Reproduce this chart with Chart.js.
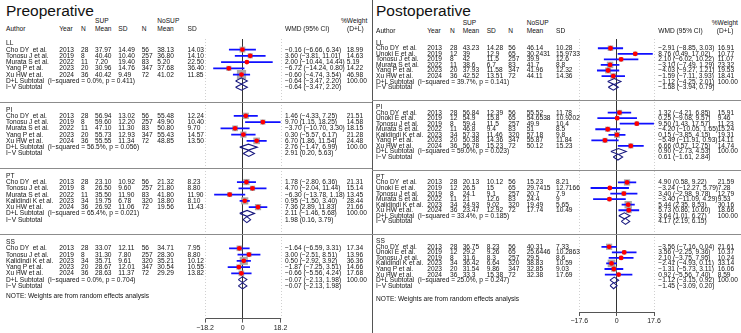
<!DOCTYPE html>
<html>
<head>
<meta charset="utf-8">
<script src="https://cdn.jsdelivr.net/npm/chart.js@4.4.1/dist/chart.umd.min.js"></script>
<style>
  body { margin: 0; width: 741px; height: 333px; position: relative; overflow: hidden; background: #fff;
         font-family: "Liberation Sans", Arial, sans-serif; color: #111; }
  canvas { position: absolute; top: 0; }
  .t { position: absolute; white-space: pre; font-size: 6.6px; line-height: 8px; transform: translateY(-50%); }
  .title { position: absolute; white-space: pre; font-size: 15.5px; line-height: 18px; }
  .hl { position: absolute; height: 1px; background: #8c8c8c; }
  .vl { position: absolute; width: 1px; background: #555; top: 0; height: 333px; left: 372px; }
</style>
</head>
<body>
<div class="vl"></div>
<canvas id="pre" width="115" height="333" style="left:185px"></canvas>
<canvas id="post" width="115" height="333" style="left:560px"></canvas>
<script>
// ---- Preoperative data ----
const preGroups = ['LL', 'PI', 'PT', 'SS'];
const preAuthor = [
  ['Cho DY  et al.', 'Tonosu J et al.', 'Murata S et al.', 'Yang P et al.', 'Xu HW et al.'],
  ['Cho DY  et al.', 'Tonosu J et al.', 'Murata S et al.', 'Yang P et al.', 'Xu HW et al.'],
  ['Cho DY  et al.', 'Tonosu J et al.', 'Murata S et al.', 'Kalidindi K et al.', 'Xu HW et al.'],
  ['Cho DY  et al.', 'Tonosu J et al.', 'Kalidindi K et al.', 'Yang P et al.', 'Xu HW et al.']
];
const preYear = [
  ['2013', '2019', '2022', '2023', '2024'],
  ['2013', '2019', '2022', '2023', '2024'],
  ['2013', '2019', '2022', '2023', '2024'],
  ['2013', '2019', '2023', '2023', '2024']
];
const preN1 = [
  ['28', '8', '11', '20', '36'], ['28', '8', '11', '20', '36'],
  ['28', '8', '11', '34', '36'], ['28', '8', '34', '20', '36']
];
const preMean1 = [
  ['37.97', '40.40', '7.20', '30.96', '40.42'],
  ['56.94', '59.60', '47.10', '55.73', '55.55'],
  ['23.10', '26.50', '35.50', '19.75', '26.92'],
  ['33.07', '31.30', '35.71', '28.67', '28.63']
];
const preSD1 = [
  ['14.49', '10.40', '19.40', '14.76', '9.49'],
  ['13.02', '12.20', '11.30', '12.93', '11.34'],
  ['10.92', '9.60', '11.90', '6.78', '11.06'],
  ['12.11', '7.80', '9.61', '12.01', '11.37']
];
const preN2 = [
  ['56', '257', '83', '347', '72'], ['56', '257', '83', '347', '72'],
  ['56', '257', '83', '320', '72'], ['56', '257', '320', '347', '72']
];
const preMean2 = [
  ['38.13', '36.80', '5.20', '37.68', '41.02'],
  ['55.48', '49.90', '50.80', '55.43', '48.85'],
  ['21.32', '21.80', '41.80', '18.80', '19.56'],
  ['34.71', '28.30', '35.21', '30.54', '29.29']
];
const preSD2 = [
  ['14.03', '14.10', '22.50', '36.40', '11.85'],
  ['12.24', '10.40', '9.70', '14.57', '13.50'],
  ['8.23', '8.80', '11.90', '8.10', '11.43'],
  ['7.95', '8.80', '10.12', '10.55', '13.82']
];
const preWMD = [
  [-0.16, 3.60, 2.00, -6.72, -0.60],
  [1.46, 9.70, -3.70, 0.30, 6.70],
  [1.78, 4.70, -6.30, 0.95, 7.36],
  [-1.64, 3.00, 0.50, -1.87, -0.66]
];
const preLow = [
  [-6.66, -3.81, -10.44, -14.24, -4.74],
  [-4.33, 1.15, -10.70, -5.57, 1.86],
  [-2.80, -2.04, -13.78, -1.50, 2.89],
  [-6.59, -2.51, -2.92, -7.25, -5.56]
];
const preHigh = [
  [6.34, 11.01, 14.44, 0.80, 3.54],
  [7.25, 18.25, 3.30, 6.17, 11.54],
  [6.36, 11.44, 1.18, 3.40, 11.83],
  [3.31, 8.51, 3.92, 3.51, 4.24]
];
const preWeight = [
  [18.99, 14.63, 5.19, 14.22, 46.98],
  [21.51, 14.58, 18.15, 21.28, 24.48],
  [21.31, 15.14, 13.45, 28.44, 21.66],
  [17.34, 13.96, 36.36, 14.66, 17.68]
];
const preDL = [[-0.64, -3.47, 2.20], [2.76, -1.47, 6.99], [2.11, -1.46, 5.68], [-0.07, -2.13, 1.98]];
const preIV = [[-0.64, -3.47, 2.20], [2.91, 0.20, 5.63], [1.98, 0.16, 3.79], [-0.07, -2.13, 1.98]];
const preI2 = ['0.0%', '56.5%', '65.4%', '0.0%'];
const preP = ['0.411', '0.056', '0.021', '0.704'];
const preTicks = [-18.2, 0, 18.2];

// ---- Postoperative data ----
const postGroups = ['LL', 'PI', 'PT', 'SS'];
const postAuthor = [
  ['Cho DY  et al.', 'Unoki E et al.', 'Tonosu J et al.', 'Murata S et al.', 'Yang P et al.', 'Xu HW et al.'],
  ['Cho DY  et al.', 'Unoki E et al.', 'Tonosu J et al.', 'Murata S et al.', 'Kalidindi K et al.', 'Yang P et al.', 'Xu HW et al.'],
  ['Cho DY  et al.', 'Unoki E et al.', 'Tonosu J et al.', 'Murata S et al.', 'Kalidindi K et al.', 'Xu HW et al.'],
  ['Cho DY  et al.', 'Unoki E et al.', 'Tonosu J et al.', 'Kalidindi K et al.', 'Yang P et al.', 'Xu HW et al.']
];
const postYear = [
  ['2013', '2019', '2019', '2022', '2023', '2024'],
  ['2013', '2019', '2019', '2022', '2023', '2023', '2024'],
  ['2013', '2019', '2019', '2022', '2023', '2024'],
  ['2013', '2019', '2019', '2023', '2023', '2024']
];
const postN1 = [
  ['28', '12', '8', '11', '20', '36'],
  ['28', '12', '8', '11', '34', '20', '36'],
  ['28', '12', '8', '11', '34', '36'],
  ['28', '12', '8', '34', '20', '36']
];
const postMean1 = [
  ['43.23', '39', '42', '38.6', '37.93', '42.52'],
  ['56.84', '54.9', '59.4', '46.8', '57.33', '50.38', '56.78'],
  ['20.13', '26.5', '24.1', '21', '24.93', '23.47'],
  ['36.75', '29.2', '31.6', '36.42', '31.54', '33.3']
];
const postSD1 = [
  ['14.28', '12.9', '11.5', '6.7', '11.58', '13.51'],
  ['12.39', '15.8', '11.5', '9.4', '11.46', '14.36', '15.23'],
  ['10.12', '15', '9.1', '12.6', '9.02', '12.92'],
  ['8.23', '9.26', '8.3', '6.64', '9.86', '15.38']
];
const postN2 = [
  ['56', '65', '257', '83', '347', '72'],
  ['56', '65', '257', '83', '320', '347', '72'],
  ['56', '65', '257', '83', '320', '72'],
  ['56', '65', '257', '320', '347', '72']
];
const postMean2 = [
  ['46.14', '30.2431', '39.9', '41.7', '41.96', '44.11'],
  ['55.52', '54.6538', '49.9', '51', '57.18', '55.87', '50.12'],
  ['15.23', '29.7415', '20.7', '24.4', '19.49', '17.74'],
  ['40.31', '25.6446', '29.5', '38.83', '32.85', '32.38']
];
const postSD2 = [
  ['10.28', '15.9733', '12.6', '8.8', '12.32', '14.36'],
  ['11.78', '10.9202', '10.4', '8.5', '9.8', '11.84', '15.23'],
  ['8.21', '12.7166', '7.9', '9', '5.65', '10.49'],
  ['7.33', '10.2863', '8.6', '10.59', '9.03', '17.69']
];
const postWMD = [
  [-2.91, 8.76, 2.10, -3.10, -4.03, -1.59],
  [1.32, 0.25, 9.50, -4.20, 0.15, -5.49, 6.66],
  [4.90, -3.24, 3.40, -3.40, 5.44, 5.73],
  [-3.56, 3.56, 2.10, -2.41, -1.31, 0.92]
];
const postLow = [
  [-8.85, 0.49, -6.02, -7.49, -9.27, -7.11],
  [-4.21, -9.08, 1.43, -10.05, -3.85, -11.91, 0.57],
  [0.58, -12.27, -2.98, -11.09, 2.35, 0.86],
  [-7.16, -2.25, -3.75, -4.93, -5.73, -5.56]
];
const postHigh = [
  [3.03, 17.02, 10.22, 1.29, 1.21, 3.93],
  [6.85, 9.57, 17.57, 1.65, 4.15, 0.93, 12.75],
  [9.22, 5.79, 9.78, 4.29, 8.53, 10.60],
  [0.04, 9.36, 7.95, 0.11, 3.11, 7.40]
];
const postWeight = [
  [16.91, 10.77, 11.07, 23.32, 19.53, 18.41],
  [15.91, 9.46, 11.23, 15.24, 19.31, 14.11, 14.74],
  [21.59, 7.28, 12.79, 9.53, 30.16, 18.66],
  [21.61, 10.37, 10.24, 33.14, 16.06, 8.59]
];
const postDL = [[-1.12, -4.25, 2.01], [0.90, -2.73, 4.53], [3.64, 1.01, 6.27], [-1.12, -3.15, 0.92]];
const postIV = [[-1.58, -3.94, 0.79], [0.61, -1.61, 2.84], [4.17, 2.19, 6.15], [-1.45, -3.09, 0.20]];
const postI2 = ['39.7%', '59.0%', '33.4%', '25.0%'];
const postP = ['0.141', '0.023', '0.185', '0.247'];
const postTicks = [-17.6, 0, 17.6];

const FONT = '"Liberation Sans", Arial, sans-serif';

function minus(s) { return String(s).replace(/-/g, '\u2212'); }
function f2(v) { return minus(v.toFixed(2)); }
function ciText(e, lo, hi) { return f2(e) + ' (' + f2(lo) + ', ' + f2(hi) + ')'; }

function addText(str, x, y, cls) {
  const d = document.createElement('div');
  d.className = cls || 't';
  d.textContent = str;
  d.style.left = x + 'px';
  d.style.top = y + 'px';
  document.body.appendChild(d);
}

// row positions (in row units) for each subgroup block
function panelRows(counts, gap) {
  const out = { label: [], study: [], dl: [], iv: [] };
  let r = 0;
  counts.forEach(n => {
    out.label.push(r);
    out.study.push(Array.from({ length: n }, (_, i) => r + 1 + i));
    out.dl.push(r + n + 1);
    out.iv.push(r + n + 2);
    r += n + 2 + gap;
  });
  return out;
}

const edgeLines = {
  id: 'edgeLines',
  beforeDatasetsDraw(chart) {
    const { ctx, chartArea: a, scales: { x } } = chart;
    ctx.save();
    ctx.strokeStyle = '#d0d0d0';
    ctx.lineWidth = 1;
    ctx.setLineDash([1, 2]);
    [x.min, x.max].forEach(v => {
      const px = Math.round(x.getPixelForValue(v)) + 0.5;
      ctx.beginPath();
      ctx.moveTo(px, a.top);
      ctx.lineTo(px, a.bottom);
      ctx.stroke();
    });
    ctx.restore();
  }
};

function drawPanel(id, L, d) {
  const rows = panelRows(d.author.map(a => a.length), 3.57);
  const h = L.diamondHalf;
  const ci = [], box = [], dot = [], dia = [];
  d.author.forEach((names, g) => {
    names.forEach((_, i) => {
      const y = rows.study[g][i];
      ci.push({ x: d.low[g][i], y }, { x: d.high[g][i], y }, { x: null, y: null });
      box.push({ x: d.wmd[g][i], y, w: d.weight[g][i] });
      dot.push({ x: d.wmd[g][i], y });
    });
    [[d.dl[g], rows.dl[g]], [d.iv[g], rows.iv[g]]].forEach(([s, y]) => {
      dia.push({ x: s[1], y }, { x: s[0], y: y - h }, { x: s[2], y }, { x: s[0], y: y + h },
               { x: s[1], y }, { x: null, y: null });
    });
  });

  // lower index is drawn on top
  const chart = new Chart(document.getElementById(id), {
    type: 'line',
    data: {
      datasets: [
        { data: dot, showLine: false, pointStyle: 'circle', pointRadius: 2.4,
          pointBackgroundColor: '#ff0000', pointBorderWidth: 0, clip: false },
        { data: ci, borderColor: '#1010ff', borderWidth: 1.8, pointRadius: 0, spanGaps: false, clip: false },
        { data: dia, borderColor: '#1a1a80', borderWidth: 1.1, pointRadius: 0, spanGaps: false, fill: false, clip: false },
        { data: box, showLine: false, pointStyle: 'rect', pointBackgroundColor: '#a9a9a9', pointBorderWidth: 0,
          pointRadius: c => c.raw ? 0.95 * Math.sqrt(c.raw.w) : 0, clip: false }
      ]
    },
    options: {
      responsive: false,
      animation: false,
      events: [],
      layout: { padding: L.pad },
      plugins: { legend: { display: false }, tooltip: { enabled: false } },
      scales: {
        x: {
          type: 'linear',
          min: d.ticks[0],
          max: d.ticks[d.ticks.length - 1],
          afterBuildTicks: s => { s.ticks = d.ticks.map(v => ({ value: v })); },
          grid: { color: c => (c.tick && c.tick.value === 0) ? '#333' : 'rgba(0,0,0,0)',
                  tickColor: '#555', tickLength: 4, lineWidth: 1 },
          border: { color: '#555', width: 1 },
          ticks: { padding: 1, color: '#222', autoSkip: false, maxRotation: 0,
                   font: { family: FONT, size: 7 },
                   callback: v => v === 0 ? '0' : minus(v) }
        },
        y: { type: 'linear', display: false, reverse: true, min: L.yMin, max: L.yMax }
      }
    },
    plugins: [edgeLines]
  });

  // table text, placed with the chart's own y scale
  const ys = v => chart.scales.y.getPixelForValue(v);
  const c = L.col;
  addText(L.title, c.author, 2, 'title');
  [['SUP', c.mean1], ['NoSUP', c.mean2], ['%Weight', c.weightHead]].forEach(([t, x]) => addText(t, x, L.head1));
  [['Author', c.author], ['Year', c.year], ['N', c.n1], ['Mean', c.mean1], ['SD', c.sd1], ['N', c.n2],
   ['Mean', c.mean2], ['SD', c.sd2], ['WMD (95% CI)', c.wmd], ['(D+L)', c.weightHead2]]
    .forEach(([t, x]) => addText(t, x, L.head2));

  d.groups.forEach((gname, g) => {
    addText(gname, c.author, ys(rows.label[g]));
    if (g > 0) {
      const ln = document.createElement('div');
      ln.className = 'hl';
      ln.style.left = L.lineX[0] + 'px';
      ln.style.width = (L.lineX[1] - L.lineX[0]) + 'px';
      ln.style.top = Math.round(ys(rows.label[g] - 1.25)) + 'px';
      document.body.appendChild(ln);
    }
    d.author[g].forEach((name, i) => {
      const y = ys(rows.study[g][i]);
      addText(name, c.author, y);
      addText(d.year[g][i], c.year, y);
      addText(d.n1[g][i], c.n1, y);
      addText(d.mean1[g][i], c.mean1, y);
      addText(d.sd1[g][i], c.sd1, y);
      addText(d.n2[g][i], c.n2, y);
      addText(d.mean2[g][i], c.mean2, y);
      addText(d.sd2[g][i], c.sd2, y);
      addText(ciText(d.wmd[g][i], d.low[g][i], d.high[g][i]), c.wmd, y);
      addText(d.weight[g][i].toFixed(2), c.weight, y);
    });
    const yd = ys(rows.dl[g]);
    addText('D+L Subtotal  (I\u2212squared = ' + d.i2[g] + ', p = ' + d.p[g] + ')', c.author, yd);
    addText(ciText(...d.dl[g]), c.wmd, yd);
    addText('100.00', c.weight, yd);
    const yi = ys(rows.iv[g]);
    addText('I\u2212V Subtotal', c.author, yi);
    addText(ciText(...d.iv[g]), c.wmd, yi);
  });
  const last = d.groups.length - 1;
  addText('NOTE: Weights are from random effects analysis', c.author, ys(rows.iv[last] + L.noteOff));
}

drawPanel('pre', {
  title: 'Preoperative',
  pad: { left: 20, right: 19.5, top: 39, bottom: 0 },
  yMin: -0.684, yMax: 43.93, diamondHalf: 0.48, noteOff: 1.6,
  head1: 21, head2: 29, lineX: [0, 372],
  col: { author: 6, year: 59.3, n1: 81, mean1: 95, sd1: 118.3, n2: 141.7, mean2: 157.3, sd2: 187.5,
         wmd: 285, weight: 346.7, weightHead: 341, weightHead2: 347 }
}, {
  groups: preGroups, author: preAuthor, year: preYear, n1: preN1, mean1: preMean1, sd1: preSD1,
  n2: preN2, mean2: preMean2, sd2: preSD2, wmd: preWMD, low: preLow, high: preHigh, weight: preWeight,
  dl: preDL, iv: preIV, i2: preI2, p: preP, ticks: preTicks
});

drawPanel('post', {
  title: 'Postoperative',
  pad: { left: 19.3, right: 21, top: 39, bottom: 6.6 },
  yMin: -0.663, yMax: 48.44, diamondHalf: 0.54, noteOff: 2.45,
  head1: 22.5, head2: 30.5, lineX: [372, 741],
  col: { author: 376, year: 427.3, n1: 450, mean1: 462.7, sd1: 486.7, n2: 508.3, mean2: 526.7, sd2: 556,
         wmd: 658.3, weight: 717.7, weightHead: 711.7, weightHead2: 716.7 }
}, {
  groups: postGroups, author: postAuthor, year: postYear, n1: postN1, mean1: postMean1, sd1: postSD1,
  n2: postN2, mean2: postMean2, sd2: postSD2, wmd: postWMD, low: postLow, high: postHigh, weight: postWeight,
  dl: postDL, iv: postIV, i2: postI2, p: postP, ticks: postTicks
});
</script>
</body>
</html>
